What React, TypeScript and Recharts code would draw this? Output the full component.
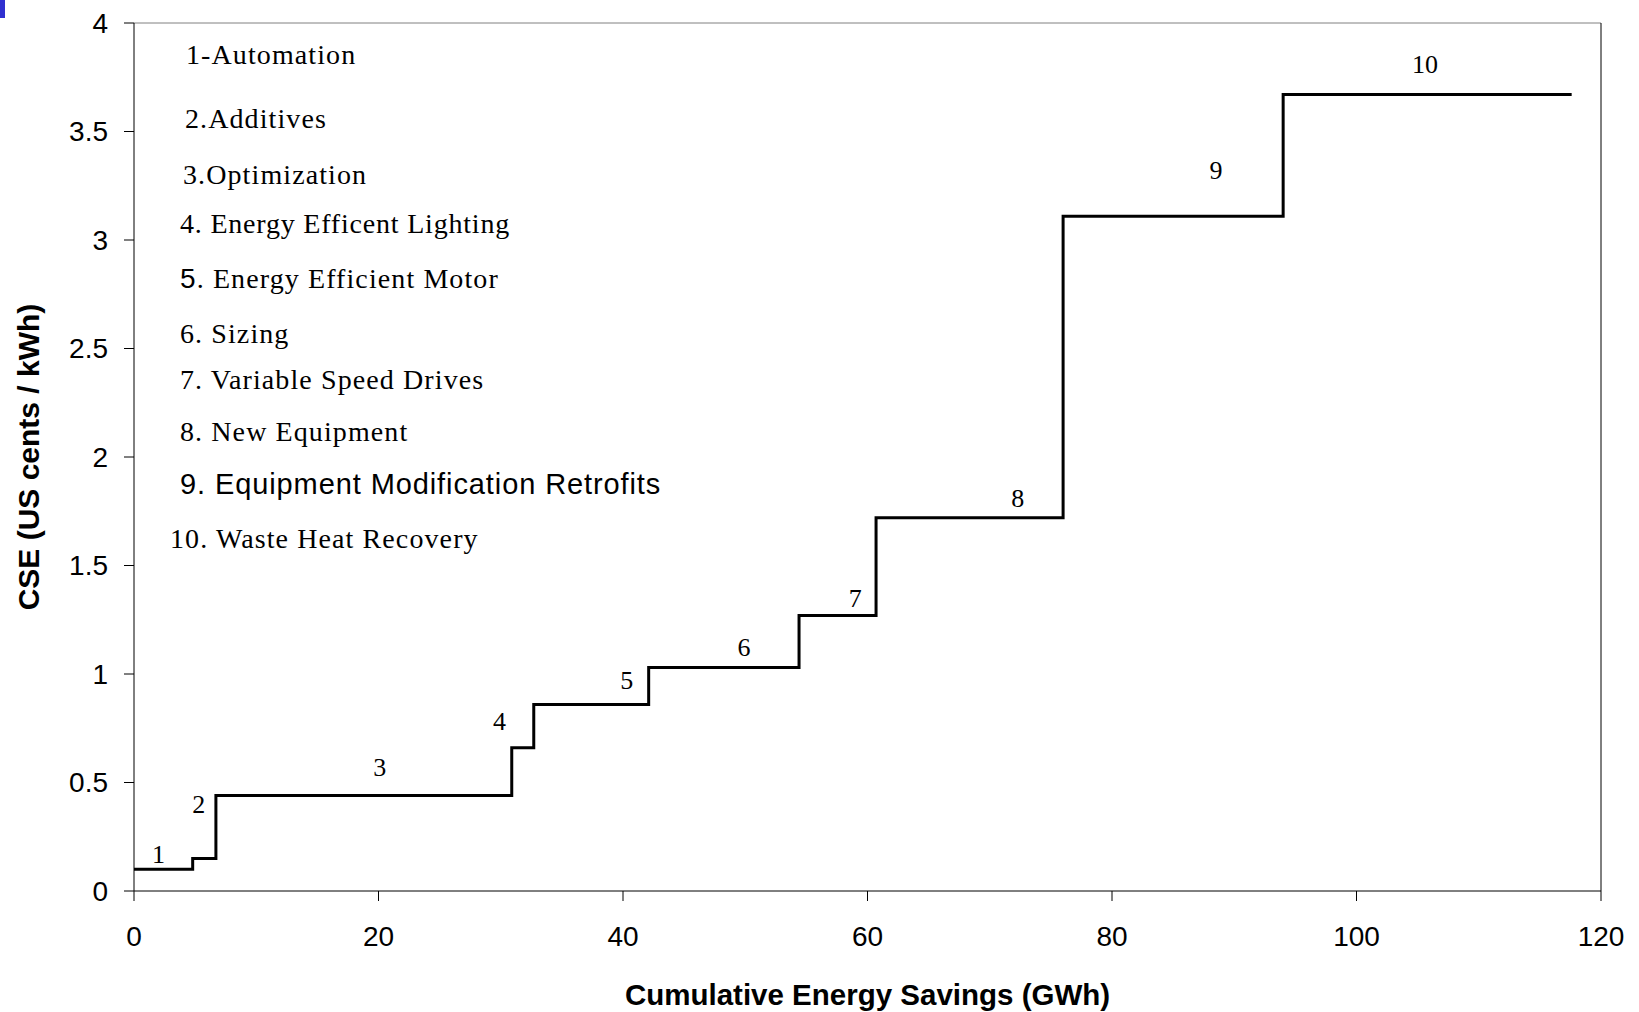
import { ComposedChart, Line, Scatter, XAxis, YAxis } from "recharts";

// cumulative savings (GWh) where each measure starts; last entry is the end of measure 10
const stepEdges = [0, 4.8, 6.7, 30.9, 32.7, 42.1, 54.4, 60.7, 76.0, 94.0, 117.6];
// cost of saved energy for each measure (US cents / kWh)
const cseValues = [0.1, 0.15, 0.44, 0.66, 0.86, 1.03, 1.27, 1.72, 3.11, 3.67];

// where the step numbers sit
const labelText = ["1", "2", "3", "4", "5", "6", "7", "8", "9", "10"];
const labelX = [2.0, 5.3, 20.1, 29.9, 40.3, 49.9, 59.0, 72.3, 88.5, 105.6];
const labelY = [0.17, 0.4, 0.57, 0.78, 0.97, 1.12, 1.35, 1.81, 3.32, 3.81];

const measureNames = [
  "1-Automation",
  "2.Additives",
  "3.Optimization",
  "4. Energy Efficent Lighting",
  "5. Energy Efficient Motor",
  "6. Sizing",
  "7. Variable Speed Drives",
  "8. New Equipment",
  "9. Equipment Modification Retrofits",
  "10. Waste Heat Recovery",
];

const xTicks = [0, 20, 40, 60, 80, 100, 120];
const yTicks = [0, 0.5, 1, 1.5, 2, 2.5, 3, 3.5, 4];

const stepData = stepEdges.map((x, i) => ({
  x,
  y: cseValues[Math.min(i, cseValues.length - 1)],
}));
const labelData = labelText.map((t, i) => ({ x: labelX[i], y: labelY[i], t }));

// layout of the measure list
const listLeft = [186, 185, 183, 180, 180, 180, 180, 180, 180, 170];
const listMid = [55, 119, 175, 224, 279, 334, 380, 432, 484, 539];

const serif = "'Liberation Serif', 'Times New Roman', serif";
const sans = "'Liberation Sans', Arial, sans-serif";

function StepLabel(props: any) {
  const { cx, cy, payload } = props;
  return (
    <text
      x={cx}
      y={cy}
      textAnchor="middle"
      dominantBaseline="central"
      fontFamily={serif}
      fontSize={26}
      fill="#000"
    >
      {payload.t}
    </text>
  );
}

export default function App() {
  return (
    <div
      style={{
        position: "fixed",
        left: 0,
        top: 0,
        width: 1639,
        height: 1012,
        background: "#fff",
      }}
    >
      <div style={{ position: "absolute", left: 0, top: 0, width: 5, height: 18, background: "#3030d0" }} />
      <ComposedChart
        width={1639}
        height={1012}
        margin={{ top: 0, right: 0, bottom: 0, left: 0 }}
        style={{ fontFamily: sans }}
      >
        <XAxis
          xAxisId={0}
          type="number"
          dataKey="x"
          domain={[0, 120]}
          ticks={xTicks}
          height={121}
          tickSize={10}
          tickMargin={25}
          stroke="#000"
          tick={{ fill: "#000", fontSize: 28 }}
          allowDataOverflow
          label={{
            value: "Cumulative Energy Savings (GWh)",
            position: "insideBottom",
            offset: 7,
            style: { fontSize: 29.5, fontWeight: "bold", fill: "#000" },
          }}
        />
        <XAxis
          xAxisId="top"
          orientation="top"
          type="number"
          dataKey="x"
          domain={[0, 120]}
          height={23}
          tick={false}
          tickLine={false}
          stroke="#808080"
        />
        <YAxis
          yAxisId={0}
          type="number"
          domain={[0, 4]}
          ticks={yTicks}
          width={134}
          tickSize={10}
          tickMargin={16}
          stroke="#000"
          tick={{ fill: "#000", fontSize: 28 }}
          label={{
            value: "CSE (US cents / kWh)",
            angle: -90,
            position: "insideLeft",
            offset: 28,
            style: { fontSize: 30, fontWeight: "bold", fill: "#000", textAnchor: "middle" },
          }}
        />
        <YAxis
          yAxisId="right"
          orientation="right"
          type="number"
          domain={[0, 4]}
          width={38}
          tick={false}
          tickLine={false}
          stroke="#000"
        />
        <Line
          data={stepData}
          dataKey="y"
          type="stepAfter"
          stroke="#000"
          strokeWidth={3}
          dot={false}
          activeDot={false}
          isAnimationActive={false}
        />
        <Scatter data={labelData} dataKey="y" shape={StepLabel} isAnimationActive={false} />
      </ComposedChart>
      {measureNames.map((name, i) => (
        <div
          key={name}
          style={{
            position: "absolute",
            left: listLeft[i],
            top: listMid[i],
            transform: "translateY(-50%)",
            fontFamily: i === 8 ? sans : serif,
            fontSize: i === 8 ? 29 : 28,
            letterSpacing: i === 8 ? 0.9 : i === 3 ? 0.8 : 1.1,
            whiteSpace: "pre",
            color: "#000",
            lineHeight: 1,
          }}
        >
          {i === 4 ? (
            <>
              <span style={{ fontFamily: sans }}>5</span>
              {name.slice(1)}
            </>
          ) : (
            name
          )}
        </div>
      ))}
    </div>
  );
}
